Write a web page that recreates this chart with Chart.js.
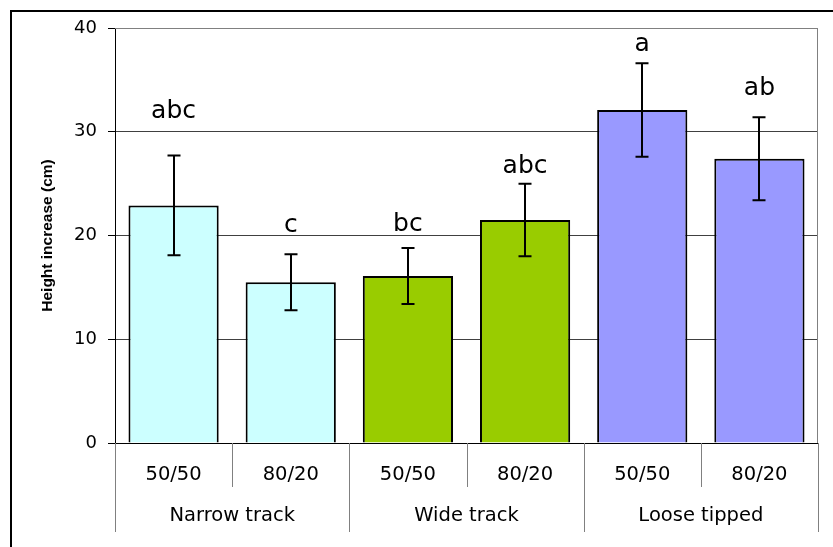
<!DOCTYPE html>
<html>
<head>
<meta charset="utf-8">
<script src="https://cdn.jsdelivr.net/npm/chart.js@4/dist/chart.umd.min.js"></script>
<style>
  html, body { margin: 0; padding: 0; background: #ffffff; }
  canvas { display: block; }
</style>
</head>
<body>
<canvas id="chart" width="833" height="547"></canvas>
<script>
// Treatment groups and the two mixes within each group
const groups = ['Narrow track', 'Wide track', 'Loose tipped'];
const mixes = ['50/50', '80/20'];

// Mean height increase (cm) and its error, one entry per bar
const heightIncrease = [22.9, 15.5, 16.1, 21.5, 32.1, 27.4];
const errorAmount = [4.8, 2.7, 2.7, 3.5, 4.5, 4.0];

// Significance letters and the height (cm) at which each letter sits
const letters = ['abc', 'c', 'bc', 'abc', 'a', 'ab'];
const letterHeights = [31.3, 20.3, 20.4, 26.0, 37.8, 33.5];

// Y axis ticks
const yTicks = [0, 10, 20, 30, 40];

// Styling
const groupColors = ['#CCFFFF', '#99CC00', '#9999FF'];
const tickFont = { family: 'DejaVu Sans', size: 19.5 };
const yTickFont = { family: 'DejaVu Sans', size: 18 };
const letterFont = '25px "DejaVu Sans"';

const categoryLabels = [];
const barColors = [];
groups.forEach((g, gi) => {
  mixes.forEach(m => {
    categoryLabels.push(m);
    barColors.push(groupColors[gi]);
  });
});

// Outer frame, plot border, error bars, letters and the two-level category axis
const decorations = {
  id: 'decorations',
  beforeDraw(chart) {
    const ctx = chart.ctx;
    ctx.save();
    ctx.fillStyle = '#ffffff';
    ctx.fillRect(0, 0, chart.width, chart.height);
    ctx.strokeStyle = '#000000';
    ctx.lineWidth = 2;
    ctx.strokeRect(11, 11, chart.width + 20, chart.height + 20);
    ctx.restore();
  },
  beforeDatasetsDraw(chart) {
    const { ctx, chartArea: a } = chart;
    ctx.save();
    ctx.strokeStyle = '#808080';
    ctx.lineWidth = 1;
    ctx.beginPath();
    ctx.moveTo(a.left, a.top + 0.5);
    ctx.lineTo(a.right - 0.5, a.top + 0.5);
    ctx.lineTo(a.right - 0.5, a.bottom);
    ctx.stroke();
    ctx.restore();
  },
  afterDatasetsDraw(chart) {
    const { ctx, chartArea: a } = chart;
    const x = chart.scales.x, y = chart.scales.y;
    const bars = chart.getDatasetMeta(0).data;
    ctx.save();
    // error bars
    ctx.strokeStyle = '#000000';
    ctx.lineWidth = 2;
    const cap = 6.5;
    bars.forEach((bar, i) => {
      const cx = Math.round(bar.x);
      const top = y.getPixelForValue(heightIncrease[i] + errorAmount[i]);
      const bot = y.getPixelForValue(heightIncrease[i] - errorAmount[i]);
      ctx.beginPath();
      ctx.moveTo(cx, top); ctx.lineTo(cx, bot);
      ctx.moveTo(cx - cap, top); ctx.lineTo(cx + cap, top);
      ctx.moveTo(cx - cap, bot); ctx.lineTo(cx + cap, bot);
      ctx.stroke();
    });
    // letters
    ctx.fillStyle = '#000000';
    ctx.font = letterFont;
    ctx.textAlign = 'center';
    ctx.textBaseline = 'alphabetic';
    bars.forEach((bar, i) => {
      ctx.fillText(letters[i], bar.x, y.getPixelForValue(letterHeights[i]));
    });
    // category separators
    ctx.strokeStyle = '#808080';
    ctx.lineWidth = 1;
    const n = categoryLabels.length;
    const sub = mixes.length;
    for (let i = 0; i <= n; i++) {
      let px;
      if (i === 0) px = a.left;
      else if (i === n) px = a.right;
      else px = (x.getPixelForValue(i - 1) + x.getPixelForValue(i)) / 2;
      px = Math.round(px) + 0.5;
      const isGroupEdge = i % sub === 0;
      ctx.beginPath();
      ctx.moveTo(px, a.bottom);
      ctx.lineTo(px, isGroupEdge ? a.bottom + 89 : a.bottom + 44);
      ctx.stroke();
    }
    // group labels
    ctx.fillStyle = '#000000';
    ctx.font = tickFont.size + 'px "' + tickFont.family + '"';
    ctx.textBaseline = 'middle';
    groups.forEach((g, gi) => {
      const first = x.getPixelForValue(gi * sub);
      const last = x.getPixelForValue(gi * sub + sub - 1);
      ctx.fillText(g, (first + last) / 2, a.bottom + 73);
    });
    ctx.restore();
  }
};

new Chart(document.getElementById('chart'), {
  type: 'bar',
  data: {
    labels: categoryLabels,
    datasets: [{
      data: heightIncrease,
      backgroundColor: barColors,
      borderColor: '#000000',
      borderWidth: 2,
      categoryPercentage: 1,
      barPercentage: 0.77
    }]
  },
  options: {
    responsive: false,
    animation: false,
    events: [],
    layout: { padding: { left: 34, top: 28, right: 15, bottom: 0 } },
    plugins: { legend: { display: false }, tooltip: { enabled: false } },
    scales: {
      x: {
        grid: { display: false, drawTicks: false },
        border: { display: true, color: '#000000', width: 1 },
        ticks: { color: '#000000', font: tickFont, padding: 20, maxRotation: 0, autoSkip: false },
        afterFit(s) { s.height = 104; }
      },
      y: {
        min: yTicks[0],
        max: yTicks[yTicks.length - 1],
        afterBuildTicks(s) { s.ticks = yTicks.map(v => ({ value: v })); },
        grid: {
          color: c => (c.tick && c.tick.value === 40 ? '#808080' : '#404040'),
          tickColor: '#000000',
          tickLength: 7,
          drawTicks: true
        },
        border: { display: true, color: '#000000', width: 1 },
        ticks: { color: '#000000', font: yTickFont, padding: 11 },
        title: {
          display: true,
          text: 'Height increase (cm)',
          color: '#000000',
          font: { family: 'Liberation Sans', size: 15.5, weight: 'bold' }
        },
        afterFit(s) { s.width = 81; }
      }
    }
  },
  plugins: [decorations]
});
</script>
</body>
</html>
